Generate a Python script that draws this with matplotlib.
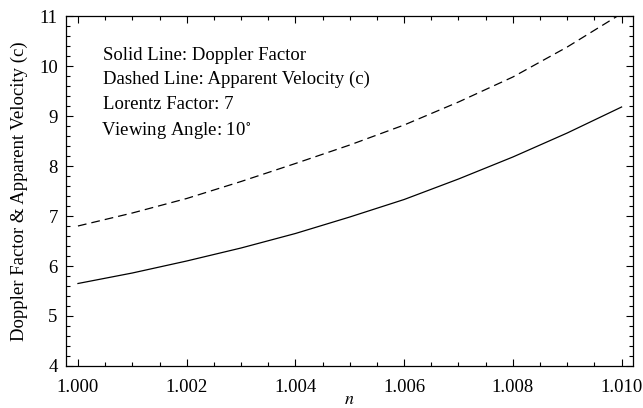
import numpy as np
import matplotlib
matplotlib.use("Agg")
import matplotlib.pyplot as plt
from matplotlib.ticker import MultipleLocator, FormatStrFormatter

# values
n_vals = [1.000, 1.001, 1.002, 1.003, 1.004, 1.005, 1.006, 1.007, 1.008, 1.009, 1.010]
doppler = [5.65, 5.86, 6.10, 6.36, 6.65, 6.98, 7.33, 7.74, 8.18, 8.66, 9.18]
apparent_v = [6.80, 7.06, 7.35, 7.69, 8.05, 8.42, 8.82, 9.28, 9.78, 10.38, 11.05]

info_lines = ["Solid Line: Doppler Factor",
              "Dashed Line: Apparent Velocity (c)",
              "Lorentz Factor: 7",
              "Viewing Angle: 10$^{\\circ}$"]

plt.rcParams['font.family'] = ['Liberation Serif', 'DejaVu Serif']
plt.rcParams['mathtext.fontset'] = 'stix'

fig = plt.figure(figsize=(6.43, 4.08), dpi=100)
ax = fig.add_axes([66 / 643, 1 - 366 / 408, (633 - 66) / 643, (366 - 16) / 408])

ax.plot(n_vals, doppler, color='black', lw=0.9)
ax.plot(n_vals, apparent_v, color='black', lw=0.9, dashes=(7, 4))

ax.set_xlim(0.99978, 1.01021)
ax.set_ylim(4, 11)
ax.xaxis.set_major_locator(MultipleLocator(0.002))
ax.xaxis.set_minor_locator(MultipleLocator(0.0005))
ax.xaxis.set_major_formatter(FormatStrFormatter('%.3f'))
ax.yaxis.set_major_locator(MultipleLocator(1))
ax.yaxis.set_minor_locator(MultipleLocator(0.2))
ax.tick_params(which='both', direction='in', top=True, right=True, labelsize=13.5, width=0.8)
ax.tick_params(which='major', length=5)
ax.tick_params(axis='x', which='major', pad=9)
ax.tick_params(axis='y', which='major', pad=6)
ax.tick_params(which='minor', length=3)
for s in ax.spines.values():
    s.set_linewidth(0.9)

ax.set_xlabel("$n$", fontsize=13, labelpad=-3)
ax.set_ylabel("Doppler Factor & Apparent Velocity (c)", fontsize=13.5, labelpad=8)

ys = [60, 84, 109, 135]
xs = [103, 103, 103, 101]
for txt, x, y in zip(info_lines, xs, ys):
    fig.text(x / 643, 1 - y / 408, txt, fontsize=13.5, ha='left', va='baseline')

fig.savefig("out.png", dpi=100)
